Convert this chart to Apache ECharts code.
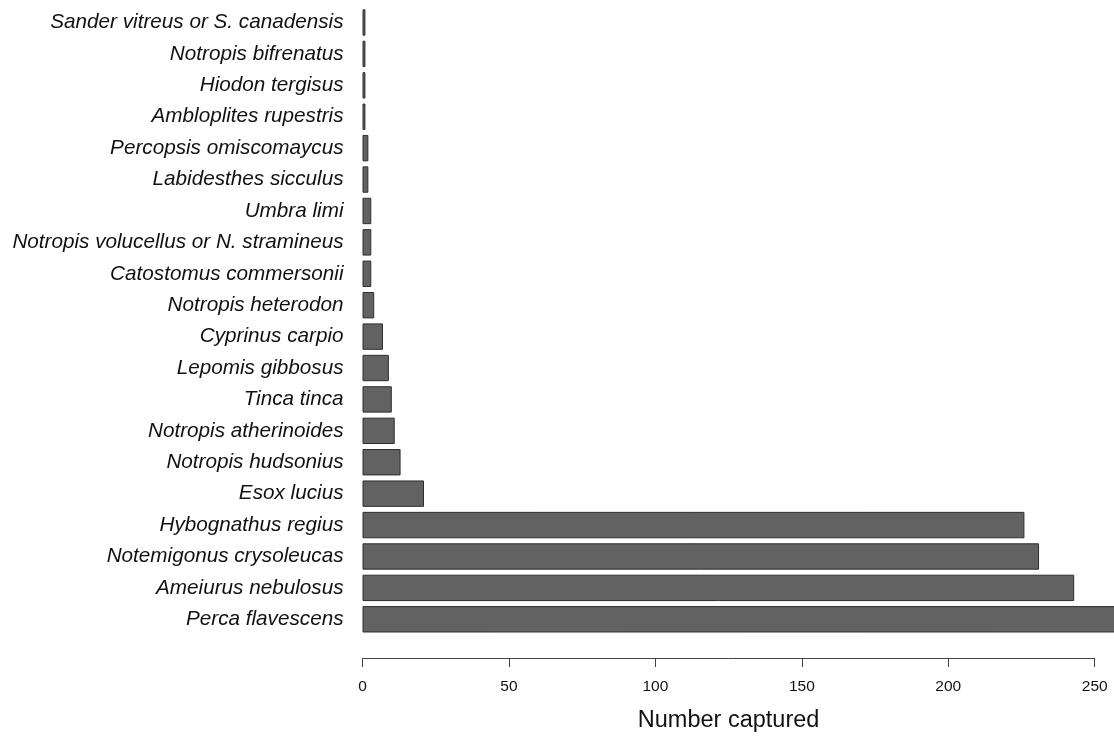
<!DOCTYPE html>
<html>
<head>
<meta charset="utf-8">
<script src="https://cdn.jsdelivr.net/npm/echarts@6/dist/echarts.min.js"></script>
<style>
html,body{margin:0;padding:0;background:#fff;}
#chart{width:1114px;height:738px;}
</style>
</head>
<body>
<div id="chart"></div>
<script>
// Categories listed top to bottom as in the figure
const species = [
  "Sander vitreus or S. canadensis",
  "Notropis bifrenatus",
  "Hiodon tergisus",
  "Ambloplites rupestris",
  "Percopsis omiscomaycus",
  "Labidesthes sicculus",
  "Umbra limi",
  "Notropis volucellus or N. stramineus",
  "Catostomus commersonii",
  "Notropis heterodon",
  "Cyprinus carpio",
  "Lepomis gibbosus",
  "Tinca tinca",
  "Notropis atherinoides",
  "Notropis hudsonius",
  "Esox lucius",
  "Hybognathus regius",
  "Notemigonus crysoleucas",
  "Ameiurus nebulosus",
  "Perca flavescens"
];
const counts = [1, 1, 1, 1, 2, 2, 3, 3, 3, 4, 7, 9, 10, 11, 13, 21, 226, 231, 243, 265];
const xTicks = [0, 50, 100, 150, 200, 250];

const chart = echarts.init(document.getElementById('chart'), null, {renderer: 'canvas'});
chart.setOption({
  animation: false,
  backgroundColor: '#ffffff',
  grid: {left: 362.5, right: 19.3, top: 6.8, bottom: 102.6, containLabel: false},
  xAxis: {
    type: 'value',
    min: xTicks[0],
    max: xTicks[xTicks.length - 1],
    interval: 50,
    offset: 23,
    name: 'Number captured',
    nameLocation: 'middle',
    nameGap: 51,
    nameTextStyle: {fontFamily: 'Liberation Sans', fontSize: 23.5, color: '#111'},
    axisLine: {show: true, lineStyle: {color: '#444', width: 1}},
    axisTick: {show: true, length: 9, lineStyle: {color: '#444', width: 1}},
    axisLabel: {fontFamily: 'Liberation Sans', fontSize: 15.5, color: '#111', margin: 21},
    splitLine: {show: false}
  },
  yAxis: {
    type: 'category',
    data: species,
    inverse: true,
    axisLine: {show: false},
    axisTick: {show: false},
    axisLabel: {fontFamily: 'Liberation Sans', fontStyle: 'italic', fontSize: 20.7, color: '#111', margin: 19}
  },
  series: [{
    type: 'bar',
    data: counts,
    clip: false,
    barCategoryGap: '16%',
    itemStyle: {color: '#626262', borderColor: '#2e2e2e', borderWidth: 1}
  }]
});
</script>
</body>
</html>
